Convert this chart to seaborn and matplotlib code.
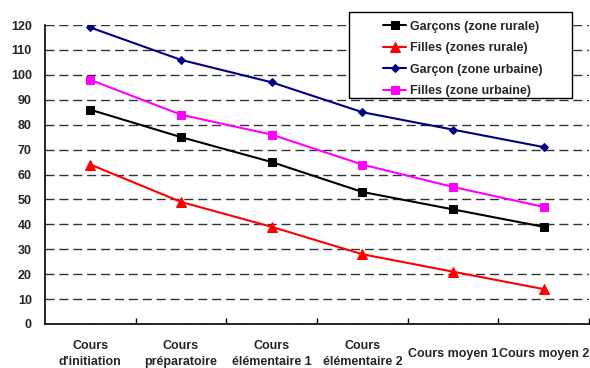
import matplotlib
matplotlib.use("Agg")
import matplotlib.pyplot as plt
import seaborn as sns
import pandas as pd
from matplotlib.patches import Rectangle
from matplotlib.ticker import FixedLocator

# Niveaux scolaires (axe des x)
niveaux = ["Cours\nd'initiation", "Cours\npréparatoire", "Cours\nélémentaire 1",
           "Cours\nélémentaire 2", "Cours moyen 1", "Cours moyen 2"]

# Valeurs par série
garcons_rural = [86, 75, 65, 53, 46, 39]
filles_rural = [64, 49, 39, 28, 21, 14]
garcons_urbain = [119, 106, 97, 85, 78, 71]
filles_urbain = [98, 84, 76, 64, 55, 47]

noms_series = ["Garçons (zone rurale)", "Filles (zones rurale)",
               "Garçon (zone urbaine)", "Filles (zone urbaine)"]
y_ticks = list(range(0, 121, 10))

sns.set_theme(style="white")
plt.rcParams["font.family"] = ["Liberation Sans", "DejaVu Sans"]
plt.rcParams["font.weight"] = "bold"

FS = 9

fig = plt.figure(figsize=(5.9, 3.68), dpi=100)
ax = fig.add_axes([45 / 590, 1 - 324 / 368, 544 / 590, 299 / 368])

styles = [
    dict(color="#000000", marker="s", markersize=6),
    dict(color="#FF0000", marker="^", markersize=7.5),
    dict(color="#000080", marker="D", markersize=4),
    dict(color="#FF00FF", marker="s", markersize=6),
]
valeurs = [garcons_rural, filles_rural, garcons_urbain, filles_urbain]

for nom, vals, st in zip(noms_series, valeurs, styles):
    df = pd.DataFrame({"pos": range(len(niveaux)), "val": vals})
    sns.lineplot(data=df, x="pos", y="val", ax=ax, label=nom, sort=False,
                 color=st["color"], marker=st["marker"], markersize=st["markersize"],
                 markeredgecolor=st["color"], linewidth=1.5, zorder=3)

ax.set_xlim(-0.5, len(niveaux) - 0.5)
ax.set_ylim(0, 120)
ax.set_xlabel("")
ax.set_ylabel("")

ax.set_yticks(y_ticks)
ax.set_yticklabels([str(v) for v in y_ticks], fontsize=FS, fontweight="bold")
ax.tick_params(axis="y", length=0, pad=9.5)

ax.set_xticks(range(len(niveaux)))
ax.set_xticklabels(niveaux, fontsize=FS, fontweight="bold", va="center",
                   linespacing=1.5)
ax.tick_params(axis="x", which="major", length=0, pad=21.5)
ax.xaxis.set_minor_locator(FixedLocator([i + 0.5 for i in range(len(niveaux))]))
ax.tick_params(axis="x", which="minor", direction="in", length=4, width=1,
               color="black", bottom=True)

ax.yaxis.grid(True, color="#333333", linewidth=1, linestyle=(0, (6.5, 3.5)))
ax.xaxis.grid(False)
for side in ("top", "right"):
    ax.spines[side].set_visible(False)
for side in ("left", "bottom"):
    ax.spines[side].set_color("black")
    ax.spines[side].set_linewidth(1.2)

handles, labels = ax.get_legend_handles_labels()
ax.get_legend().remove()

cadre = Rectangle((349 / 590, 1 - 98 / 368), 223 / 590, 86 / 368,
                  transform=fig.transFigure, facecolor="white",
                  edgecolor="black", linewidth=1, zorder=3)
fig.add_artist(cadre)

leg = fig.legend(handles, labels, loc="upper left",
                 bbox_to_anchor=(377 / 590, 1 - 14.5 / 368),
                 bbox_transform=fig.transFigure, frameon=False, borderpad=0,
                 handlelength=1.85, handletextpad=0.3, labelspacing=0.75,
                 prop={"size": FS, "weight": "bold"})
leg.set_zorder(5)

fig.savefig("out.png", dpi=100)
